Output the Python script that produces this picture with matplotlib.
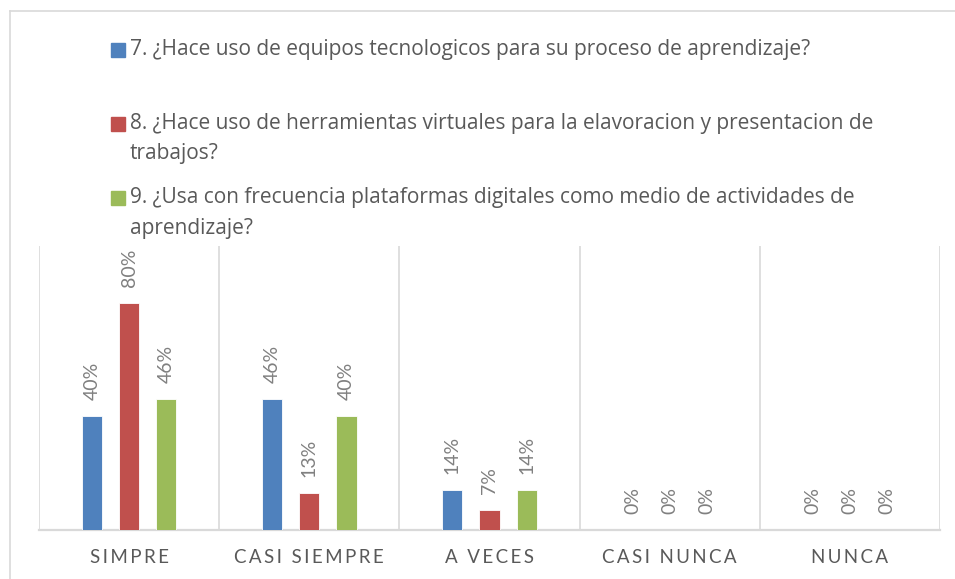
import textwrap

import matplotlib.pyplot as plt
from matplotlib.lines import Line2D
from matplotlib.patches import Rectangle
import numpy as np

categories = ["SIMPRE", "CASI SIEMPRE", "A VECES", "CASI NUNCA", "NUNCA"]
series_names = [
    "7. ¿Hace uso de equipos tecnologicos para su proceso de aprendizaje?",
    "8. ¿Hace uso de herramientas virtuales para la elavoracion y presentacion de trabajos?",
    "9. ¿Usa con frecuencia plataformas digitales como medio de actividades de aprendizaje?",
]
q7 = [0.40, 0.46, 0.14, 0.0, 0.0]
q8 = [0.80, 0.13, 0.07, 0.0, 0.0]
q9 = [0.46, 0.40, 0.14, 0.0, 0.0]
colors = ["#4F81BD", "#C0504D", "#9BBB59"]

plt.rcParams['font.family'] = ['Lato', 'DejaVu Sans']

W, H = 955, 579
fig = plt.figure(figsize=(W / 100, H / 100), dpi=100)


def px(x, y):
    return x / W, 1 - y / H


# plot area
l, b = px(39, 530)
r, t = px(940, 246)
ax = fig.add_axes([l, b, r - l, t - b])

x = np.arange(len(categories))
bw = 0.112
step = 0.206
for k, vals in enumerate([q7, q8, q9]):
    pos = x + (k - 1) * step
    ax.bar(pos, vals, bw, color=colors[k], edgecolor="white", linewidth=0.6, zorder=3)
    for xi, v in zip(pos, vals):
        ax.annotate(f"{v:.0%}", (xi, v), xytext=(0, 11.5), textcoords="offset points",
                    rotation=90, ha="center", va="bottom", fontsize=14, color="#808080")

ax.set_xlim(-0.5, len(categories) - 0.5)
ax.set_ylim(0, 1.0)
for g in np.arange(-0.5, len(categories), 1.0):
    ax.axvline(g, color="#d9d9d9", lw=1.2, zorder=1)

for s in ["left", "right", "top"]:
    ax.spines[s].set_visible(False)
ax.spines["bottom"].set_color("#d9d9d9")
ax.spines["bottom"].set_linewidth(1.6)
ax.set_yticks([])
ax.set_xticks(x)
spaced = ["\u2009".join(c) for c in categories]
ax.set_xticklabels(spaced, fontsize=13.5, color="#595959")
ax.tick_params(axis="x", length=0, pad=14)

# outer chart border (left and top only visible)
fig.add_artist(Line2D([10 / W, 10 / W], [0, 1 - 11 / H], color="#d9d9d9", lw=1.2))
fig.add_artist(Line2D([10 / W, 1], [1 - 11 / H, 1 - 11 / H], color="#d9d9d9", lw=1.2))

# legend, drawn by hand to follow the original layout
entry_y = [50, 124, 198]
for k, name in enumerate(series_names):
    sx, sy = px(111, entry_y[k] + 7)
    fig.add_artist(Rectangle((sx, sy), 14 / W, 14 / H, color=colors[k],
                             transform=fig.transFigure))
    for i, line in enumerate(textwrap.wrap(name, 76)):
        fig.text(*px(130, entry_y[k] + i * 30), line, fontsize=15,
                 color="#595959", va="center", ha="left", family="Open Sans")

fig.savefig("out.png", dpi=100)
